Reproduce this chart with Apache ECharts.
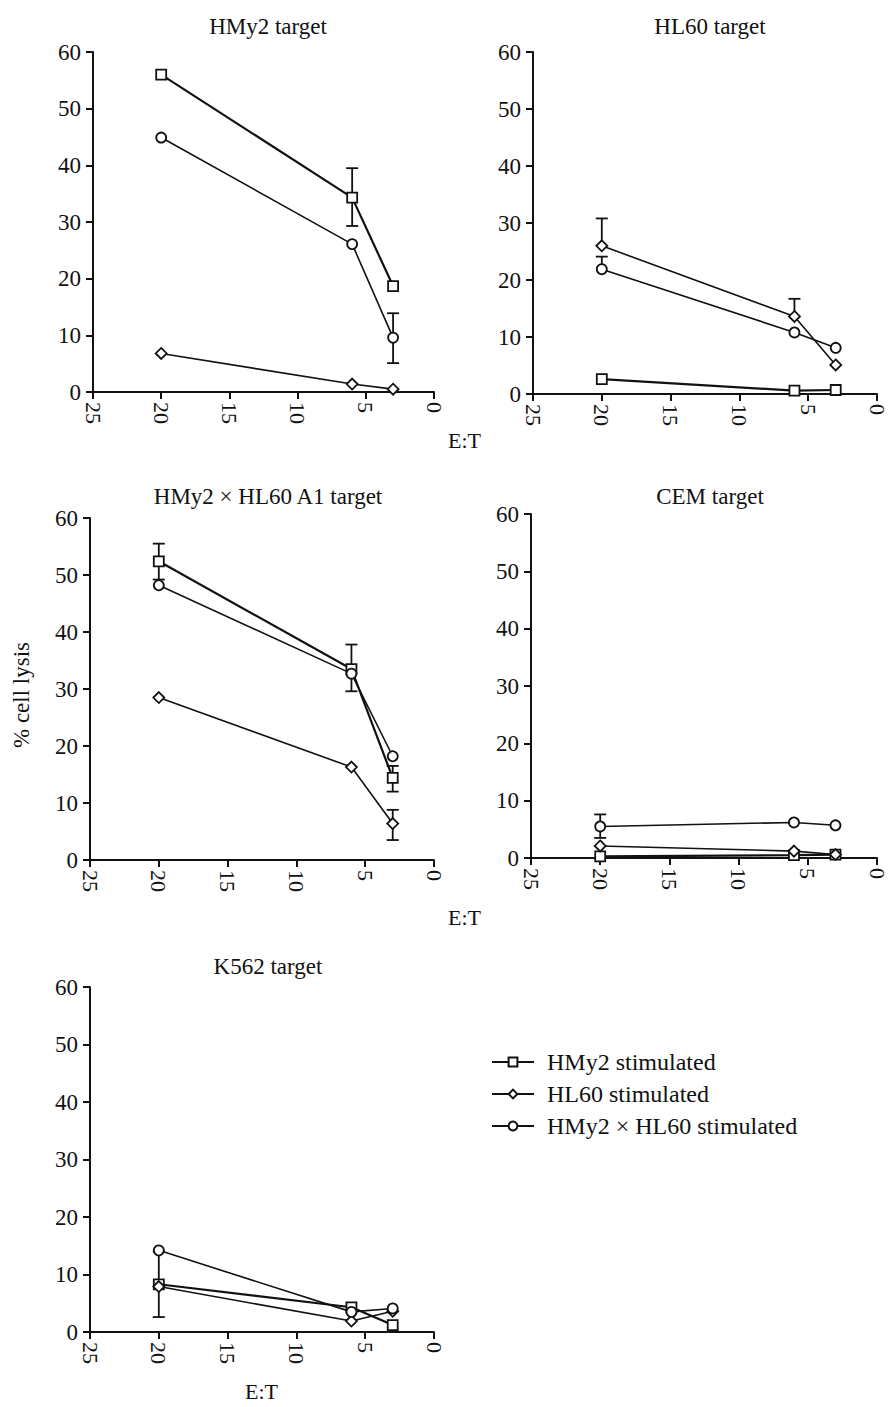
<!DOCTYPE html>
<html>
<head>
<meta charset="utf-8">
<script src="https://cdn.jsdelivr.net/npm/echarts@6/dist/echarts.min.js"></script>
<style>
html, body { margin: 0; padding: 0; background: #fff; }
#chart { width: 888px; height: 1407px; }
</style>
</head>
<body>
<div id="chart"></div>
<script>
// E:T ratios and % cell lysis, one row per target panel
const etRatio = [20, 6, 3]
const panelTitles = ['HMy2 target', 'HL60 target', 'HMy2 × HL60 A1 target', 'CEM target', 'K562 target']
const seriesNames = ['HMy2 stimulated', 'HL60 stimulated', 'HMy2 × HL60 stimulated']
const hmy2Stimulated = [
  [56.0, 34.3, 18.7],
  [2.6, 0.6, 0.7],
  [52.4, 33.5, 14.4],
  [0.3, 0.5, 0.6],
  [8.3, 4.3, 1.2]
]
const hl60Stimulated = [
  [6.8, 1.4, 0.5],
  [26.0, 13.6, 5.1],
  [28.5, 16.3, 6.4],
  [2.1, 1.2, 0.6],
  [7.9, 1.9, 3.6]
]
const hybridStimulated = [
  [44.9, 26.1, 9.6],
  [21.9, 10.8, 8.1],
  [48.2, 32.7, 18.2],
  [5.5, 6.2, 5.7],
  [14.2, 3.5, 4.1]
]
// [panel, E:T, mean, low, high]
const errorBars = [
  [0, 6, 34.3, 29.3, 39.5],
  [0, 3, 9.6, 5.1, 13.9],
  [1, 20, 26.0, 26.0, 30.8],
  [1, 20, 21.9, 21.9, 24.1],
  [1, 6, 13.6, 13.6, 16.7],
  [2, 20, 52.4, 49.2, 55.5],
  [2, 6, 33.5, 29.6, 37.8],
  [2, 3, 14.4, 12.0, 16.5],
  [2, 3, 6.4, 3.5, 8.8],
  [3, 20, 5.5, 3.5, 7.6],
  [4, 20, 8.3, 2.6, 14.0]
]
const yTicks = { min: 0, max: 60, interval: 10 }
const xTicks = { min: 0, max: 25, interval: 5 }

const font = 'Liberation Serif'
const ink = '#111'

const grids = [
  { left: 93, top: 52, width: 341, height: 340 },
  { left: 533, top: 52, width: 344, height: 342 },
  { left: 90, top: 518, width: 344, height: 342 },
  { left: 531, top: 514, width: 346, height: 344 },
  { left: 90, top: 987, width: 344, height: 345 }
]
const titlePos = [[263, 10], [705, 10], [263, 480], [705, 480], [263, 950]]

const chart = echarts.init(document.getElementById('chart'), null, { renderer: 'svg' })

const symbols = ['rect', 'diamond', 'circle']
const symbolSizes = [10, 11, 10]
const lineWidths = [2.2, 1.6, 1.6]
const allSeriesData = [hmy2Stimulated, hl60Stimulated, hybridStimulated]

const series = []
panelTitles.forEach((t, p) => {
  series.push({
    type: 'custom',
    xAxisIndex: p,
    yAxisIndex: p,
    silent: true,
    z: 1,
    data: errorBars.filter(e => e[0] === p).map(e => [e[1], e[2], e[3], e[4]]),
    renderItem: (params, api) => {
      const x = api.value(0)
      const mean = api.value(1)
      const lo = api.coord([x, api.value(2)])
      const hi = api.coord([x, api.value(3)])
      const style = { stroke: ink, lineWidth: 1.8 }
      const cap = 6
      const children = [{ type: 'line', shape: { x1: lo[0], y1: lo[1], x2: hi[0], y2: hi[1] }, style }]
      if (api.value(3) > mean) children.push({ type: 'line', shape: { x1: hi[0] - cap, y1: hi[1], x2: hi[0] + cap, y2: hi[1] }, style })
      if (api.value(2) < mean) children.push({ type: 'line', shape: { x1: lo[0] - cap, y1: lo[1], x2: lo[0] + cap, y2: lo[1] }, style })
      return { type: 'group', children }
    }
  })
  allSeriesData.forEach((d, s) => {
    series.push({
      name: seriesNames[s],
      type: 'line',
      xAxisIndex: p,
      yAxisIndex: p,
      z: 3,
      data: etRatio.map((x, i) => [x, d[p][i]]),
      symbol: symbols[s],
      symbolSize: symbolSizes[s],
      showAllSymbol: true,
      lineStyle: { color: ink, width: lineWidths[s] },
      itemStyle: { color: '#fff', borderColor: ink, borderWidth: 1.8 },
      emphasis: { disabled: true }
    })
  })
})

const option = {
  backgroundColor: '#fff',
  animation: false,
  textStyle: { fontFamily: font, color: ink },
  title: panelTitles.map((t, i) => ({
    text: t,
    left: titlePos[i][0],
    top: titlePos[i][1],
    textAlign: 'center',
    textStyle: { fontFamily: font, fontSize: 23, fontWeight: 'normal', color: ink }
  })),
  grid: grids,
  xAxis: grids.map((g, i) => ({
    type: 'value',
    gridIndex: i,
    inverse: true,
    ...xTicks,
    axisLine: { onZero: false, lineStyle: { color: ink, width: 2 } },
    axisTick: { length: 7, lineStyle: { color: ink, width: 2 } },
    axisLabel: { rotate: -90, fontFamily: font, fontSize: 22, color: ink, margin: 10 },
    splitLine: { show: false }
  })),
  yAxis: grids.map((g, i) => ({
    type: 'value',
    gridIndex: i,
    position: 'left',
    ...yTicks,
    axisLine: { show: true, onZero: false, lineStyle: { color: ink, width: 2 } },
    axisTick: { show: true, length: 7, lineStyle: { color: ink, width: 2 } },
    axisLabel: { fontFamily: font, fontSize: 23, color: ink, margin: 12 },
    splitLine: { show: false }
  })),
  legend: {
    orient: 'vertical',
    left: 486,
    top: 1045,
    itemWidth: 42,
    itemHeight: 11,
    itemGap: 8,
    data: seriesNames,
    textStyle: { fontFamily: font, fontSize: 24, color: ink, padding: [0, 0, 0, 8] },
    selectedMode: false
  },
  graphic: [
    { type: 'text', left: 448, top: 429, style: { text: 'E:T', font: '22px "Liberation Serif"', fill: ink } },
    { type: 'text', left: 448, top: 906, style: { text: 'E:T', font: '22px "Liberation Serif"', fill: ink } },
    { type: 'text', left: 245, top: 1380, style: { text: 'E:T', font: '22px "Liberation Serif"', fill: ink } },
    { type: 'text', x: 10, y: 748, rotation: Math.PI / 2, style: { text: '% cell lysis', font: '23px "Liberation Serif"', fill: ink } }
  ],
  series
}
chart.setOption(option)
</script>
</body>
</html>
